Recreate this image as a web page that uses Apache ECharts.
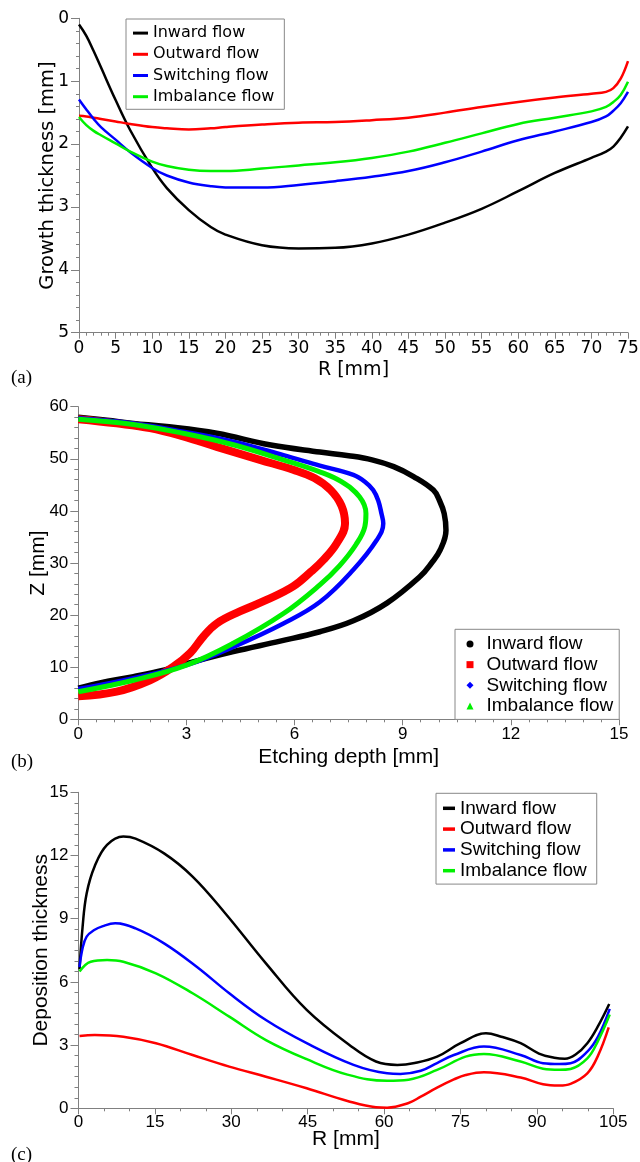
<!DOCTYPE html>
<html>
<head>
<meta charset="utf-8">
<script src="https://cdn.jsdelivr.net/npm/echarts@6/dist/echarts.min.js"></script>
<style>
  html, body { margin: 0; padding: 0; background: #fff; }
  #chart { width: 640px; height: 1162px; }
</style>
</head>
<body>
<div id="chart"></div>
<script>
const names = ['Inward flow', 'Outward flow', 'Switching flow', 'Imbalance flow']
const colors = ['#000000', '#ff0000', '#0000ff', '#00f000']

// (a) growth thickness vs R
const growthR = [0, 1, 2, 3, 5, 7, 10, 12, 15, 18, 20, 25, 30, 35, 40, 45, 50, 55, 60, 65, 70, 72, 73, 74, 75]
const growthInward = [0.10, 0.28, 0.52, 0.78, 1.30, 1.78, 2.38, 2.70, 3.05, 3.32, 3.44, 3.61, 3.66, 3.65, 3.58, 3.44, 3.25, 3.03, 2.75, 2.46, 2.22, 2.12, 2.04, 1.90, 1.72]
const growthOutward = [1.55, 1.56, 1.58, 1.60, 1.64, 1.68, 1.73, 1.75, 1.77, 1.75, 1.73, 1.69, 1.66, 1.65, 1.62, 1.58, 1.50, 1.41, 1.33, 1.26, 1.20, 1.17, 1.11, 0.96, 0.68]
const growthSwitching = [1.29, 1.45, 1.60, 1.73, 1.93, 2.13, 2.38, 2.50, 2.61, 2.67, 2.69, 2.69, 2.65, 2.59, 2.52, 2.43, 2.29, 2.12, 1.94, 1.80, 1.65, 1.56, 1.47, 1.35, 1.17]
const growthImbalance = [1.57, 1.70, 1.79, 1.86, 1.99, 2.12, 2.28, 2.35, 2.41, 2.43, 2.43, 2.39, 2.34, 2.29, 2.22, 2.12, 1.98, 1.83, 1.68, 1.58, 1.48, 1.41, 1.33, 1.22, 1.01]

// (b) etching depth profile, Z [mm] and depth [mm]
const etchInwardZ = [6.0, 7.0, 8.2, 9.5, 10.7, 13.0, 15.0, 16.8, 18.9, 22.3, 27.4, 30.0, 32.5, 36.3, 39.5, 42.0, 44.0, 46.6, 48.5, 49.8, 50.6, 51.3, 52.7, 54.9, 56.2, 56.8, 57.4, 58.0]
const etchInwardDepth = [0, 0.6, 1.53, 2.4, 3.0, 4.3, 5.6, 6.7, 7.63, 8.56, 9.48, 9.8, 10.04, 10.2, 10.15, 10.02, 9.85, 9.3, 8.75, 8.15, 7.5, 6.7, 5.3, 3.84, 2.45, 1.53, 0.8, 0]
const etchOutwardZ = [4.4, 5.3, 7.5, 10.1, 12.7, 15.9, 18.4, 20.7, 22.9, 25.5, 28.3, 30.6, 33.8, 37.6, 41.0, 44.0, 46.3, 47.9, 49.8, 52.3, 54.3, 55.9, 56.8, 57.6]
const etchOutwardDepth = [0, 1.06, 1.99, 2.64, 3.1, 3.47, 3.84, 4.48, 5.22, 5.96, 6.45, 6.8, 7.17, 7.4, 7.3, 7.0, 6.55, 5.96, 5.04, 3.84, 2.91, 1.99, 1.06, 0]
const etchSwitchingZ = [5.8, 7.9, 10.4, 13.9, 18.4, 22.5, 28.7, 34.4, 37.6, 39.5, 42.0, 44.0, 45.6, 46.9, 48.7, 50.7, 53.3, 55.2, 56.8, 57.8]
const etchSwitchingDepth = [0, 1.53, 3.0, 4.3, 5.69, 6.7, 7.63, 8.28, 8.46, 8.41, 8.32, 8.18, 7.95, 7.63, 6.7, 5.69, 4.3, 2.91, 1.53, 0]
const etchImbalanceZ = [5.3, 7.5, 10.4, 14.6, 20.3, 25.8, 29.5, 33.5, 37.0, 39.5, 42.7, 45.6, 47.5, 49.8, 52.7, 54.9, 56.6, 57.6]
const etchImbalanceDepth = [0, 1.53, 3.0, 4.3, 5.69, 6.7, 7.25, 7.7, 7.95, 7.98, 7.8, 7.3, 6.7, 5.69, 4.3, 2.91, 1.53, 0]

// (c) deposition thickness vs R
const depInwardR = [0.2, 0.8, 1.6, 3.2, 5.6, 8.8, 11.2, 16.8, 22.4, 28.8, 36.8, 44.8, 53.5, 58.4, 62.6, 66.0, 70.4, 75.0, 80.0, 83.0, 86.8, 90.4, 93.4, 95.5, 97.6, 99.9, 102.0, 104.2]
const depInward = [6.6, 8.6, 10.2, 11.5, 12.5, 12.9, 12.8, 12.1, 11.0, 9.26, 6.88, 4.67, 2.95, 2.22, 2.06, 2.15, 2.45, 3.09, 3.56, 3.4, 3.09, 2.6, 2.4, 2.35, 2.55, 3.09, 3.9, 4.95]
const depOutwardR = [0.2, 3.2, 8.8, 15.2, 22.4, 29.6, 36.8, 44.8, 52.8, 58.4, 60.6, 64.8, 67.2, 70.4, 73.7, 76.0, 79.6, 86.8, 91.2, 94.4, 96.6, 99.9, 102.0, 104.1]
const depOutward = [3.43, 3.48, 3.4, 3.09, 2.53, 1.98, 1.5, 0.95, 0.35, 0.05, 0.03, 0.25, 0.55, 0.98, 1.37, 1.58, 1.71, 1.46, 1.14, 1.08, 1.16, 1.66, 2.5, 3.84]
const depSwitchingR = [0.2, 0.8, 1.6, 3.0, 4.8, 7.2, 11.2, 16.8, 23.2, 29.6, 36.8, 44.8, 54.0, 60.6, 63.2, 67.2, 70.4, 73.7, 79.6, 86.8, 91.2, 94.4, 96.6, 99.9, 102.0, 104.3]
const depSwitching = [6.7, 7.6, 8.15, 8.45, 8.65, 8.78, 8.54, 7.83, 6.72, 5.46, 4.19, 3.09, 2.06, 1.66, 1.63, 1.78, 2.15, 2.53, 2.93, 2.53, 2.14, 2.1, 2.14, 2.69, 3.4, 4.72]
const depImbalanceR = [0.2, 2.4, 5.6, 8.8, 15.2, 22.4, 29.6, 36.8, 44.8, 52.8, 60.6, 64.8, 70.4, 76.0, 79.6, 86.8, 91.2, 94.4, 96.6, 99.9, 102.0, 104.3]
const depImbalance = [6.49, 6.96, 7.04, 6.96, 6.41, 5.46, 4.35, 3.24, 2.33, 1.6, 1.31, 1.36, 1.82, 2.45, 2.58, 2.22, 1.88, 1.83, 1.87, 2.37, 3.2, 4.45]

function pairs(xs, ys) {
  return xs.map((x, i) => [x, ys[i]])
}

const fontA = 'DejaVu Sans'
const fontBC = 'Liberation Sans'
const axisGray = '#808080'

function axis(font, extra) {
  return Object.assign({
    type: 'value',
    nameLocation: 'middle',
    nameMoveOverlap: false,
    axisLine: { onZero: false, lineStyle: { color: axisGray, width: 1 } },
    axisTick: { show: true, length: 6, lineStyle: { color: axisGray } },
    minorTick: { show: true, length: 3, lineStyle: { color: axisGray } },
    splitLine: { show: false },
    minorSplitLine: { show: false },
    axisLabel: { color: '#000', fontFamily: font, fontSize: 17, margin: 7 },
    nameTextStyle: { color: '#000', fontFamily: font, fontSize: 20 },
  }, extra)
}

function lineSeries(name, color, data, idx, width) {
  return {
    name: name,
    type: 'line',
    xAxisIndex: idx,
    yAxisIndex: idx,
    data: data,
    smooth: 0.4,
    symbol: 'none',
    lineStyle: { color: color, width: width },
    itemStyle: { color: color },
  }
}

let series = []
// (a)
series.push(lineSeries(names[0], colors[0], pairs(growthR, growthInward), 0, 2.5))
series.push(lineSeries(names[1], colors[1], pairs(growthR, growthOutward), 0, 2.5))
series.push(lineSeries(names[2], colors[2], pairs(growthR, growthSwitching), 0, 2.5))
series.push(lineSeries(names[3], colors[3], pairs(growthR, growthImbalance), 0, 2.5))
// (b)
series.push(lineSeries(names[0], colors[0], pairs(etchInwardDepth, etchInwardZ), 1, 5.5))
series.push(lineSeries(names[1], colors[1], pairs(etchOutwardDepth, etchOutwardZ), 1, 8))
series.push(lineSeries(names[2], colors[2], pairs(etchSwitchingDepth, etchSwitchingZ), 1, 4.5))
series.push(lineSeries(names[3], colors[3], pairs(etchImbalanceDepth, etchImbalanceZ), 1, 5))
// (c)
series.push(lineSeries(names[0], colors[0], pairs(depInwardR, depInward), 2, 2.5))
series.push(lineSeries(names[1], colors[1], pairs(depOutwardR, depOutward), 2, 2.5))
series.push(lineSeries(names[2], colors[2], pairs(depSwitchingR, depSwitching), 2, 2.5))
series.push(lineSeries(names[3], colors[3], pairs(depImbalanceR, depImbalance), 2, 2.5))

const legendBase = {
  orient: 'vertical',
  itemGap: 0,
  borderColor: '#888',
  borderWidth: 1,
  backgroundColor: '#fff',
  selectedMode: false,
  itemStyle: { borderWidth: 0 },
}

const option = {
  animation: false,
  backgroundColor: '#fff',
  title: [
    { text: '(a)', left: 11, top: 369, padding: 0, textStyle: { fontFamily: 'Liberation Serif', fontSize: 19, fontWeight: 'normal', color: '#000' } },
    { text: '(b)', left: 11, top: 753, padding: 0, textStyle: { fontFamily: 'Liberation Serif', fontSize: 19, fontWeight: 'normal', color: '#000' } },
    { text: '(c)', left: 11, top: 1146, padding: 0, textStyle: { fontFamily: 'Liberation Serif', fontSize: 19, fontWeight: 'normal', color: '#000' } },
  ],
  grid: [
    { left: 79, top: 18.3, width: 549, height: 314.4, outerBoundsMode: 'none' },
    { left: 78.3, top: 406.7, width: 540.7, height: 312.6, outerBoundsMode: 'none' },
    { left: 78.5, top: 792.3, width: 534.8, height: 316, outerBoundsMode: 'none' },
  ],
  xAxis: [
    axis(fontA, { gridIndex: 0, min: 0, max: 75, interval: 5, minorTick: { show: true, splitNumber: 5, length: 3, lineStyle: { color: axisGray } }, name: 'R [mm]', nameGap: 28, nameTextStyle: { color: '#000', fontFamily: fontA, fontSize: 19 } }),
    axis(fontBC, { gridIndex: 1, min: 0, max: 15, interval: 3, minorTick: { show: true, splitNumber: 6, length: 3, lineStyle: { color: axisGray } }, name: 'Etching depth [mm]', nameGap: 27, nameTextStyle: { color: '#000', fontFamily: fontBC, fontSize: 21 } }),
    axis(fontBC, { gridIndex: 2, min: 0, max: 105, interval: 15, minorTick: { show: true, splitNumber: 3, length: 3, lineStyle: { color: axisGray } }, name: 'R [mm]', nameGap: 20, axisLabel: { color: '#000', fontFamily: fontBC, fontSize: 17, margin: 6 }, nameTextStyle: { color: '#000', fontFamily: fontBC, fontSize: 21 } }),
  ],
  yAxis: [
    axis(fontA, { gridIndex: 0, min: 0, max: 5, interval: 1, inverse: true, minorTick: { show: true, splitNumber: 5, length: 3, lineStyle: { color: axisGray } }, axisTick: { show: true, length: 8, lineStyle: { color: axisGray } }, axisLabel: { color: '#000', fontFamily: fontA, fontSize: 17, margin: 10 }, name: 'Growth thickness [mm]', nameGap: 21, nameTextStyle: { color: '#000', fontFamily: fontA, fontSize: 19.5 } }),
    axis(fontBC, { gridIndex: 1, min: 0, max: 60, interval: 10, minorTick: { show: true, splitNumber: 5, length: 4, lineStyle: { color: axisGray } }, axisTick: { show: true, length: 8, lineStyle: { color: axisGray } }, axisLabel: { color: '#000', fontFamily: fontBC, fontSize: 17, margin: 10 }, name: 'Z [mm]', nameGap: 30, nameTextStyle: { color: '#000', fontFamily: fontBC, fontSize: 21 } }),
    axis(fontBC, { gridIndex: 2, min: 0, max: 15, interval: 3, minorTick: { show: true, splitNumber: 6, length: 4, lineStyle: { color: axisGray } }, axisTick: { show: true, length: 8, lineStyle: { color: axisGray } }, axisLabel: { color: '#000', fontFamily: fontBC, fontSize: 17, margin: 10 }, name: 'Deposition thickness', nameGap: 27, nameTextStyle: { color: '#000', fontFamily: fontBC, fontSize: 21 } }),
  ],
  legend: [
    Object.assign({}, legendBase, {
      left: 126, top: 19,
      padding: [3.5, 10, 2, 7],
      itemWidth: 15, itemHeight: 3,
      textStyle: { fontFamily: fontA, fontSize: 16, lineHeight: 21.2, color: '#000' },
      data: names.map((n) => ({ name: n, icon: 'rect' })),
    }),
    Object.assign({}, legendBase, {
      left: 455, top: 629.3,
      padding: [4.3, 6, 3, 11.5],
      itemWidth: 7, itemHeight: 7,
      textStyle: { fontFamily: fontBC, fontSize: 19, lineHeight: 20.7, color: '#000', padding: [0, 0, 0, 8] },
      data: [
        { name: names[0], icon: 'circle' },
        { name: names[1], icon: 'rect' },
        { name: names[2], icon: 'diamond' },
        { name: names[3], icon: 'triangle' },
      ],
    }),
    Object.assign({}, legendBase, {
      left: 436, top: 793.3,
      padding: [4.6, 10, 3, 7],
      itemWidth: 12, itemHeight: 3.5,
      textStyle: { fontFamily: fontBC, fontSize: 19, lineHeight: 20.8, color: '#000' },
      data: names.map((n) => ({ name: n, icon: 'rect' })),
    }),
  ],
  series: series,
}

const chart = echarts.init(document.getElementById('chart'), null, { renderer: 'canvas' })
chart.setOption(option)
</script>
</body>
</html>
